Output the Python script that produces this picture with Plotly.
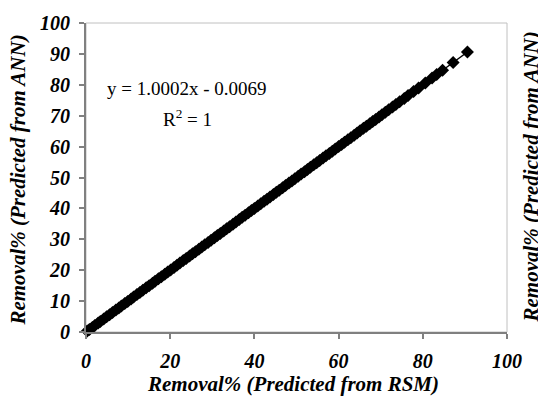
import plotly.graph_objects as go

# Removal% predicted from RSM (x) and from ANN (y)
rsm = [0.3, 0.8, 1.5, 2.1, 2.9, 3.4, 4.2, 4.9, 5.6, 6.3, 7.1, 7.8, 8.4, 9.2, 9.9,
       10.7, 11.3, 12.1, 12.8, 13.5, 14.3, 15.0, 15.8, 16.4, 17.2, 17.9, 18.7, 19.4,
       20.1, 20.9, 21.6, 22.3, 23.1, 23.8, 24.6, 25.3, 26.0, 26.8, 27.5, 28.2, 29.0,
       29.7, 30.5, 31.2, 31.9, 32.7, 33.4, 34.1, 34.9, 35.6, 36.4, 37.1, 37.8, 38.6,
       39.3, 40.0, 40.8, 41.5, 42.3, 43.0, 43.7, 44.5, 45.2, 45.9, 46.7, 47.4, 48.2,
       48.9, 49.6, 50.4, 51.1, 51.9, 52.6, 53.3, 54.1, 54.8, 55.5, 56.3, 57.0, 57.8,
       58.5, 59.2, 60.0, 60.7, 61.4, 62.2, 62.9, 63.7, 64.4, 65.1, 65.9, 66.6, 67.4,
       68.1, 68.8, 69.6, 70.3, 71.1, 71.9, 72.8, 73.6, 74.5, 75.6, 76.5, 77.8, 79.0,
       80.6, 82.2, 83.3, 84.7, 87.2, 90.6]
ann = [0.29, 0.80, 1.49, 2.10, 2.89, 3.40, 4.19, 4.90, 5.60, 6.29, 7.10, 7.80, 8.39, 9.20, 9.90,
       10.70, 11.30, 12.10, 12.79, 13.50, 14.30, 15.00, 15.80, 16.40, 17.20, 17.90, 18.70, 19.40,
       20.10, 20.90, 21.60, 22.30, 23.10, 23.80, 24.60, 25.30, 26.00, 26.80, 27.50, 28.20, 29.00,
       29.70, 30.50, 31.20, 31.90, 32.70, 33.40, 34.10, 34.90, 35.60, 36.40, 37.10, 37.80, 38.60,
       39.30, 40.00, 40.80, 41.50, 42.30, 43.00, 43.70, 44.50, 45.20, 45.90, 46.70, 47.40, 48.20,
       48.90, 49.60, 50.40, 51.10, 51.90, 52.60, 53.30, 54.10, 54.80, 55.50, 56.30, 57.00, 57.80,
       58.50, 59.20, 60.00, 60.70, 61.40, 62.20, 62.90, 63.70, 64.40, 65.10, 65.90, 66.60, 67.40,
       68.10, 68.80, 69.60, 70.30, 71.10, 71.90, 72.80, 73.60, 74.50, 75.60, 76.50, 77.80, 79.00,
       80.60, 82.20, 83.30, 84.70, 87.20, 90.61]
slope = 1.0002
intercept = -0.0069
xticks = [0, 20, 40, 60, 80, 100]
yticks = [0, 10, 20, 30, 40, 50, 60, 70, 80, 90, 100]
x_title = "Removal% (Predicted from RSM)"
y_title = "Removal% (Predicted from ANN)"
eq_text = "y = 1.0002x - 0.0069"
r2_text = "R<sup>2</sup> = 1"

trend_x = [min(rsm), max(rsm)]
trend_y = [slope * v + intercept for v in trend_x]

serif = "Liberation Serif"
tickfont = dict(family=serif, size=20, color="black", weight="bold", style="italic")
titlefont = dict(family=serif, size=21, color="black", weight="bold", style="italic")
annfont = dict(family=serif, size=19, color="black")


def bi(v):
    return "<b><i>%s</i></b>" % v


fig = go.Figure()
fig.add_trace(go.Scatter(x=trend_x, y=trend_y, mode="lines",
                         line=dict(color="black", width=1.5),
                         showlegend=False))
fig.add_trace(go.Scatter(x=rsm, y=ann, mode="markers",
                         marker=dict(symbol="diamond", size=10, color="black",
                                     line=dict(width=0)),
                         showlegend=False, cliponaxis=False))

fig.update_layout(
    width=538, height=396,
    margin=dict(l=86, r=31, t=16, b=64),
    paper_bgcolor="white", plot_bgcolor="white",
    xaxis=dict(range=[0, 100], tickvals=xticks, ticktext=[bi(v) for v in xticks],
               ticks="outside", ticklen=5, ticklabelstandoff=5,
               tickcolor="#808080", tickwidth=1.5, showgrid=False, zeroline=False,
               showline=True, linecolor="#808080", linewidth=2,
               tickfont=tickfont),
    yaxis=dict(range=[0, 100], tickvals=yticks, ticktext=[bi(v) for v in yticks],
               ticks="outside", ticklen=5, ticklabelstandoff=5,
               tickcolor="#808080", tickwidth=1.5, showgrid=False, zeroline=False,
               showline=True, linecolor="#808080", linewidth=2,
               tickfont=tickfont),
    shapes=[dict(type="rect", xref="paper", yref="paper", x0=0, y0=0, x1=1, y1=1,
                 line=dict(color="#c0c0c0", width=1), layer="below")],
    annotations=[
        dict(text=eq_text, x=0.24, y=0.788, xref="paper", yref="paper",
             xanchor="center", yanchor="middle", showarrow=False, font=annfont),
        dict(text=r2_text, x=0.24, y=0.693, xref="paper", yref="paper",
             xanchor="center", yanchor="middle", showarrow=False, font=annfont),
        dict(text=bi(x_title), x=0.4917, y=-0.168, xref="paper", yref="paper",
             xanchor="center", yanchor="middle", showarrow=False, font=titlefont),
        dict(text=bi(y_title), x=-0.1615, y=0.49, xref="paper", yref="paper",
             xanchor="center", yanchor="middle", textangle=-90,
             showarrow=False, font=titlefont),
        dict(text=bi(y_title), x=1.0, y=0.5, xref="paper", yref="paper",
             xanchor="left", yanchor="middle", xshift=9, textangle=-90,
             showarrow=False, font=titlefont),
    ],
)

fig.write_html("out.html")
